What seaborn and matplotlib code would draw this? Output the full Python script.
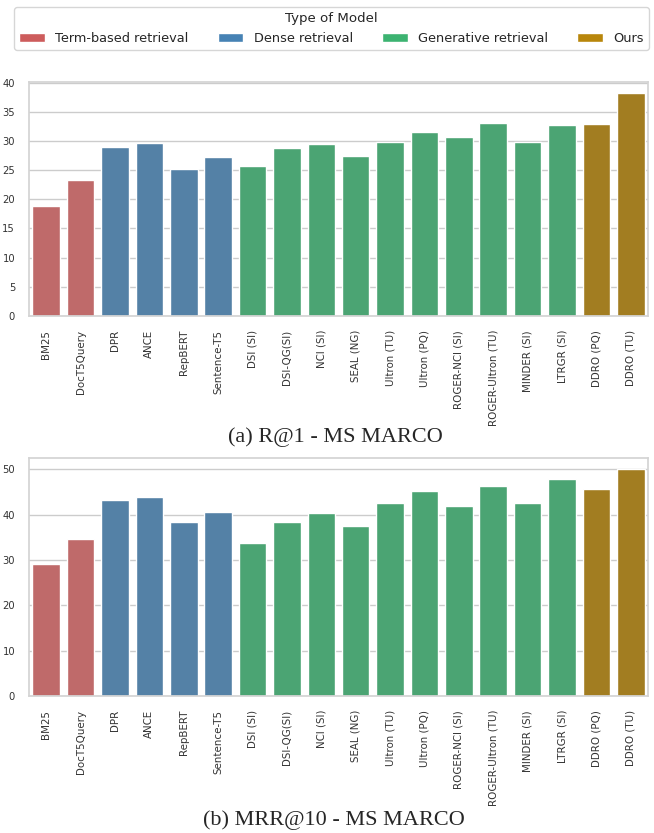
import matplotlib
matplotlib.use("Agg")
import matplotlib.pyplot as plt
import matplotlib.patches as mpatches
import pandas as pd
import seaborn as sns

# Retrieval models, in plotting order
models = [
    "BM25", "DocT5Query", "DPR", "ANCE", "RepBERT", "Sentence-T5",
    "DSI (SI)", "DSI-QG(SI)", "NCI (SI)", "SEAL (NG)", "Ultron (TU)",
    "Ultron (PQ)", "ROGER-NCI (SI)", "ROGER-Ultron (TU)", "MINDER (SI)",
    "LTRGR (SI)", "DDRO (PQ)", "DDRO (TU)",
]
model_types = (
    ["Term-based retrieval"] * 2
    + ["Dense retrieval"] * 4
    + ["Generative retrieval"] * 10
    + ["Ours"] * 2
)
type_order = ["Term-based retrieval", "Dense retrieval", "Generative retrieval", "Ours"]
type_colors = ["indianred", "steelblue", "mediumseagreen", "darkgoldenrod"]

# MS MARCO scores
r_at_1 = [18.9, 23.3, 29.0, 29.6, 25.2, 27.3, 25.7, 28.8, 29.5, 27.5,
          29.8, 31.5, 30.6, 33.1, 29.9, 32.7, 32.9, 38.2]
mrr_at_10 = [29.1, 34.7, 43.3, 44.0, 38.4, 40.6, 33.8, 38.3, 40.4, 37.5,
             42.5, 45.3, 41.9, 46.3, 42.5, 47.8, 45.7, 50.0]

captions = ["(a) R@1 - MS MARCO", "(b) MRR@10 - MS MARCO"]

sns.set_theme(style="whitegrid")
plt.rcParams["font.family"] = ["DejaVu Sans"]

palette = dict(zip(type_order, type_colors))

W, H = 654, 833
fig = plt.figure(figsize=(W / 100, H / 100), dpi=100)


def px_axes(left, top, right, bottom):
    return fig.add_axes([left / W, 1 - bottom / H, (right - left) / W, (bottom - top) / H])


ax_top = px_axes(29, 82, 648, 316)
ax_bot = px_axes(29, 458, 648, 696)

for ax, scores in [(ax_top, r_at_1), (ax_bot, mrr_at_10)]:
    df = pd.DataFrame({"Model": models, "Score": scores, "Type": model_types})
    sns.barplot(data=df, x="Model", y="Score", hue="Type", order=models,
                hue_order=type_order, palette=palette, dodge=False,
                legend=False, ax=ax)
    ax.set_xlabel("")
    ax.set_ylabel("")
    ax.tick_params(axis="x", rotation=90, labelsize=7.4, colors="#333333", pad=4)
    ax.tick_params(axis="y", labelsize=7.2, colors="#333333", pad=4)
    for side in ax.spines.values():
        side.set_color("#d4d4d4")

fig.text(0.513, 1 - 437 / H, captions[0], ha="center", va="center",
         family="Liberation Serif", fontsize=16)
fig.text(0.51, 1 - 820 / H, captions[1], ha="center", va="center",
         family="Liberation Serif", fontsize=16)

handles = [mpatches.Patch(facecolor=c, label=t) for t, c in zip(type_order, type_colors)]
leg = fig.legend(handles=handles, title="Type of Model", loc="lower left",
                 bbox_to_anchor=(14 / W, 1 - 50 / H, 635 / W, 45 / H), mode="expand",
                 ncol=4, fontsize=9.3, title_fontsize=9.6, frameon=True,
                 borderaxespad=0, handletextpad=0.8)
for t in leg.get_texts():
    t.set_color("#262626")

fig.savefig("out.png", dpi=100)
